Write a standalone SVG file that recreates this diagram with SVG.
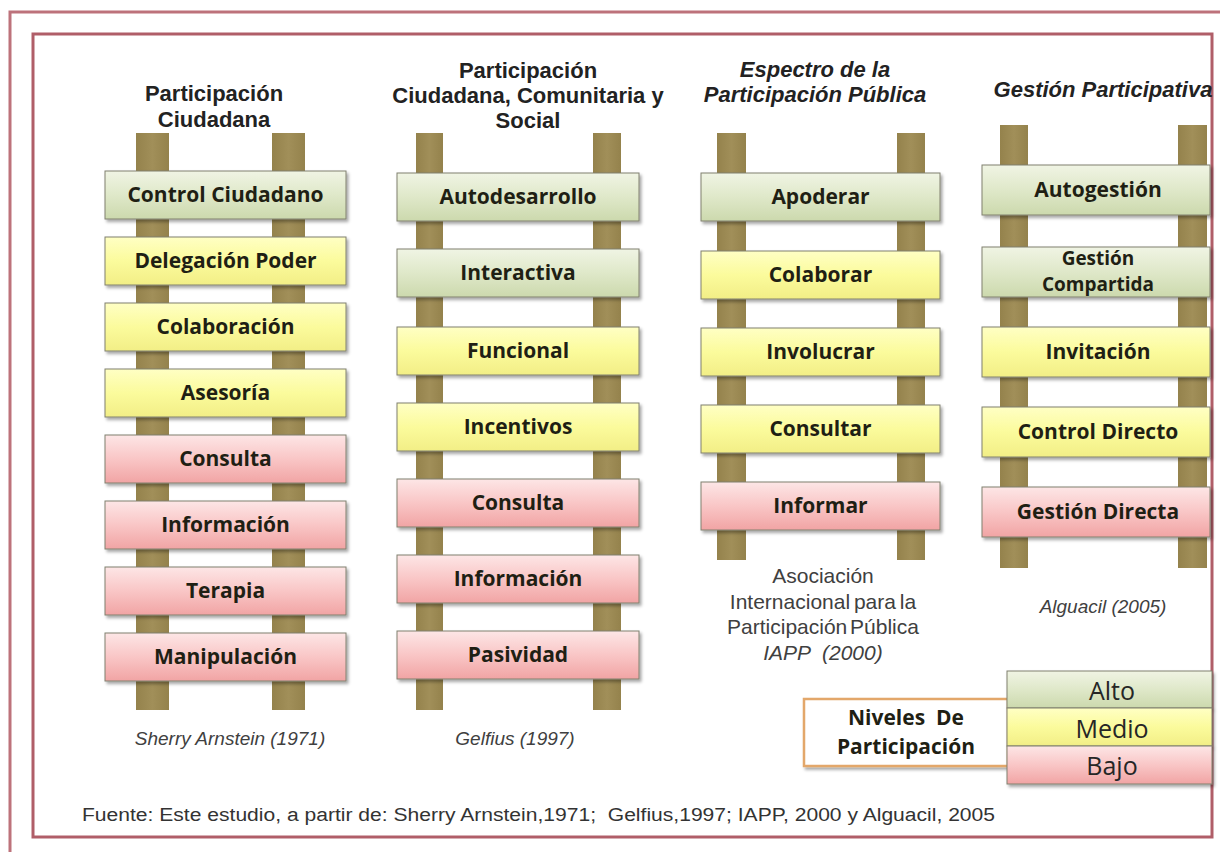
<svg xmlns="http://www.w3.org/2000/svg" width="1220" height="852" viewBox="0 0 1220 852">
<defs>
<linearGradient id="gGreen" x1="0" y1="0" x2="0" y2="1"><stop offset="0" stop-color="#f0f4e4"/><stop offset="0.5" stop-color="#dfe8c9"/><stop offset="1" stop-color="#ccd9ad"/></linearGradient>
<linearGradient id="gYellow" x1="0" y1="0" x2="0" y2="1"><stop offset="0" stop-color="#ffffc4"/><stop offset="0.5" stop-color="#fbfb9c"/><stop offset="1" stop-color="#f2ee86"/></linearGradient>
<linearGradient id="gPink" x1="0" y1="0" x2="0" y2="1"><stop offset="0" stop-color="#fde6e6"/><stop offset="0.5" stop-color="#f9c6c6"/><stop offset="1" stop-color="#f1a4a4"/></linearGradient>
<linearGradient id="gPost" x1="0" y1="0" x2="1" y2="0"><stop offset="0" stop-color="#94824c"/><stop offset="0.5" stop-color="#a18f59"/><stop offset="1" stop-color="#94824c"/></linearGradient>
<filter id="sh" x="-5%" y="-15%" width="112%" height="140%"><feDropShadow dx="2" dy="2.5" stdDeviation="1.6" flood-color="#000" flood-opacity="0.35"/></filter>
</defs>
<style>
.post{fill:url(#gPost)}
.rung{stroke:#80806f;stroke-width:1;filter:url(#sh)}
.g{fill:url(#gGreen)}
.y{fill:url(#gYellow)}
.p{fill:url(#gPink)}
.rt{font-family:"Open Sans","Noto Sans",sans-serif;font-weight:700;font-size:21px;fill:#1f1f14;text-anchor:middle}
.rt2{font-size:19px}
.title{font-family:"Liberation Sans",Arial,sans-serif;font-weight:700;font-size:22px;fill:#222;text-anchor:middle}
.ti{font-style:italic}
.cap{font-family:"Liberation Sans",Arial,sans-serif;font-size:19px;fill:#404040;text-anchor:middle}
.cap2{font-family:"Liberation Sans",Arial,sans-serif;font-size:21px;fill:#404040;text-anchor:middle}
.lv{font-family:"Open Sans","Noto Sans",sans-serif;font-size:25px;fill:#262626;text-anchor:middle}
</style>
<rect width="1220" height="852" fill="#ffffff"/>
<g id="frame" fill="none">
<rect x="10" y="12" width="1230" height="870" stroke="#bd727b" stroke-width="3"/>
<rect x="33" y="34" width="1179" height="803" stroke="#b05e68" stroke-width="3"/>
</g>

<g id="ladder-arnstein">
<text class="title" x="214" y="101">Participación</text>
<text class="title" x="214" y="127">Ciudadana</text>
<rect class="post" x="136" y="133" width="33" height="577"/>
<rect class="post" x="272" y="133" width="33" height="577"/>
<rect class="rung g" x="105" y="171" width="241" height="48"/><text class="rt" x="225.5" y="202">Control Ciudadano</text>
<rect class="rung y" x="105" y="237" width="241" height="48"/><text class="rt" x="225.5" y="268">Delegación Poder</text>
<rect class="rung y" x="105" y="303" width="241" height="48"/><text class="rt" x="225.5" y="334">Colaboración</text>
<rect class="rung y" x="105" y="369" width="241" height="48"/><text class="rt" x="225.5" y="400">Asesoría</text>
<rect class="rung p" x="105" y="435" width="241" height="48"/><text class="rt" x="225.5" y="466">Consulta</text>
<rect class="rung p" x="105" y="501" width="241" height="48"/><text class="rt" x="225.5" y="532">Información</text>
<rect class="rung p" x="105" y="567" width="241" height="48"/><text class="rt" x="225.5" y="598">Terapia</text>
<rect class="rung p" x="105" y="633" width="241" height="48"/><text class="rt" x="225.5" y="664">Manipulación</text>
<text class="cap ti" x="230" y="745">Sherry Arnstein (1971)</text>
</g>

<g id="ladder-gelfius">
<text class="title" x="528" y="78">Participación</text>
<text class="title" x="528" y="103">Ciudadana, Comunitaria y</text>
<text class="title" x="528" y="128">Social</text>
<rect class="post" x="416" y="133" width="27" height="577"/>
<rect class="post" x="593" y="133" width="28" height="577"/>
<rect class="rung g" x="397" y="173" width="242" height="48"/><text class="rt" x="518" y="204">Autodesarrollo</text>
<rect class="rung g" x="397" y="249" width="242" height="48"/><text class="rt" x="518" y="280">Interactiva</text>
<rect class="rung y" x="397" y="327" width="242" height="48"/><text class="rt" x="518" y="358">Funcional</text>
<rect class="rung y" x="397" y="403" width="242" height="48"/><text class="rt" x="518" y="434">Incentivos</text>
<rect class="rung p" x="397" y="479" width="242" height="48"/><text class="rt" x="518" y="510">Consulta</text>
<rect class="rung p" x="397" y="555" width="242" height="48"/><text class="rt" x="518" y="586">Información</text>
<rect class="rung p" x="397" y="631" width="242" height="48"/><text class="rt" x="518" y="662">Pasividad</text>
<text class="cap ti" x="515" y="745">Gelfius (1997)</text>
</g>

<g id="ladder-iapp">
<text class="title ti" x="815" y="77">Espectro de la</text>
<text class="title ti" x="815" y="102">Participación Pública</text>
<rect class="post" x="717" y="133" width="29" height="427"/>
<rect class="post" x="897" y="133" width="28" height="427"/>
<rect class="rung g" x="701" y="173" width="239" height="48"/><text class="rt" x="820.5" y="204">Apoderar</text>
<rect class="rung y" x="701" y="251" width="239" height="48"/><text class="rt" x="820.5" y="282">Colaborar</text>
<rect class="rung y" x="701" y="328" width="239" height="48"/><text class="rt" x="820.5" y="359">Involucrar</text>
<rect class="rung y" x="701" y="405" width="239" height="48"/><text class="rt" x="820.5" y="436">Consultar</text>
<rect class="rung p" x="701" y="482" width="239" height="48"/><text class="rt" x="820.5" y="513">Informar</text>
<text class="cap2" x="823" y="583">Asociación</text>
<text class="cap2" x="823" y="609" word-spacing="-2">Internacional para la</text>
<text class="cap2" x="823" y="634" word-spacing="-3">Participación Pública</text>
<text class="cap2 ti" x="823" y="660" xml:space="preserve">IAPP  (2000)</text>
</g>

<g id="ladder-alguacil">
<text class="title ti" x="1103" y="97">Gestión Participativa</text>
<rect class="post" x="1000" y="125" width="28" height="443"/>
<rect class="post" x="1178" y="125" width="29" height="443"/>
<rect class="rung g" x="982" y="165" width="228" height="50"/><text class="rt" x="1098" y="197">Autogestión</text>
<rect class="rung g" x="982" y="247" width="228" height="50"/><text class="rt rt2" x="1098" y="265">Gestión</text><text class="rt rt2" x="1098" y="291">Compartida</text>
<rect class="rung y" x="982" y="327" width="228" height="50"/><text class="rt" x="1098" y="359">Invitación</text>
<rect class="rung y" x="982" y="407" width="228" height="50"/><text class="rt" x="1098" y="439">Control Directo</text>
<rect class="rung p" x="982" y="487" width="228" height="50"/><text class="rt" x="1098" y="519">Gestión Directa</text>
<text class="cap ti" x="1103" y="613">Alguacil (2005)</text>
</g>

<g id="legend">
<rect x="804" y="699" width="204" height="67" fill="#ffffff" stroke="#e3a76a" stroke-width="2.5" filter="url(#sh)"/>
<text class="rt" x="906" y="725" xml:space="preserve">Niveles  De</text>
<text class="rt" x="906" y="754">Participación</text>
<rect class="rung g" x="1007" y="671" width="205" height="37"/><text class="lv" x="1112" y="700">Alto</text>
<rect class="rung y" x="1007" y="708" width="205" height="38"/><text class="lv" x="1112" y="738">Medio</text>
<rect class="rung p" x="1007" y="746" width="205" height="38"/><text class="lv" x="1112" y="775">Bajo</text>
</g>

<g id="footer">
<text x="82" y="821" font-family="Liberation Sans, Arial, sans-serif" font-size="18" fill="#333" textLength="913" lengthAdjust="spacingAndGlyphs" xml:space="preserve">Fuente: Este estudio, a partir de: Sherry Arnstein,1971;  Gelfius,1997; IAPP, 2000 y Alguacil, 2005</text>
</g>
<g id="connectors"/>
</svg>
